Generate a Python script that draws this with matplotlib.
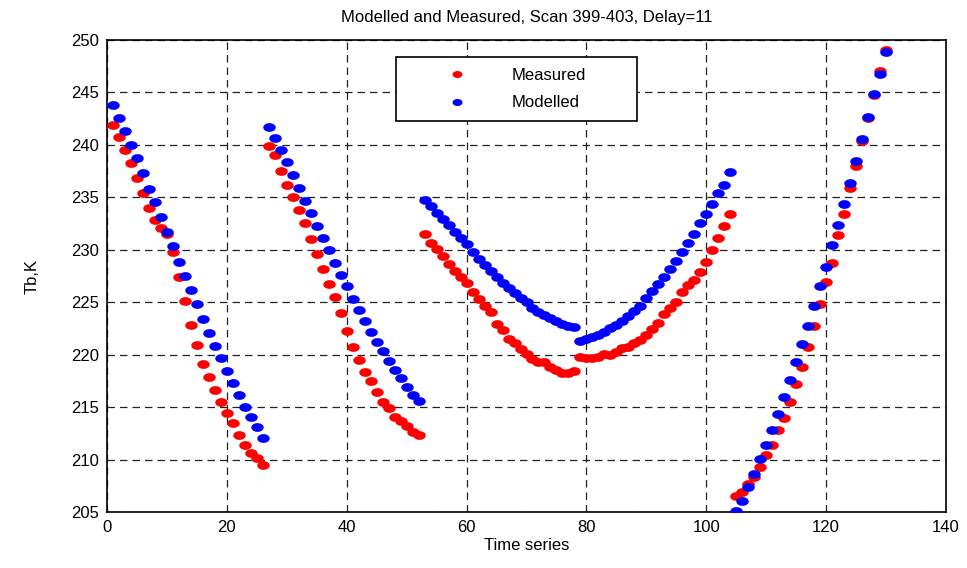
import numpy as np
import matplotlib
matplotlib.use("Agg")
import matplotlib.pyplot as plt
from matplotlib.path import Path

# ---- data -------------------------------------------------------------
seg_x = [list(range(1, 27)), list(range(27, 53)), list(range(53, 79)),
         list(range(79, 105)), list(range(105, 131))]

measured_1 = [241.86, 240.75, 239.48, 238.24, 236.87, 235.38, 233.98, 232.87, 232.05, 231.51,
              229.83, 227.38, 225.16, 222.81, 220.90, 219.10, 217.86, 216.59, 215.44, 214.43,
              213.48, 212.37, 211.38, 210.65, 210.11, 209.44]
modelled_1 = [243.76, 242.56, 241.29, 240.02, 238.78, 237.35, 235.83, 234.56, 233.16, 231.73,
              230.33, 228.81, 227.54, 226.14, 224.87, 223.44, 222.05, 220.78, 219.67, 218.40,
              217.29, 216.11, 215.03, 214.05, 213.06, 212.05]
measured_2 = [239.94, 238.99, 237.53, 236.17, 235.03, 233.80, 232.53, 230.98, 229.56, 228.20,
              226.77, 225.51, 223.99, 222.28, 220.76, 219.49, 218.35, 217.53, 216.46, 215.44,
              214.87, 214.05, 213.64, 213.16, 212.63, 212.37]
modelled_2 = [241.74, 240.63, 239.49, 238.39, 237.09, 235.89, 234.62, 233.48, 232.22, 231.11,
              229.94, 228.73, 227.63, 226.52, 225.35, 224.24, 223.20, 222.15, 221.17, 220.35,
              219.37, 218.51, 217.82, 216.96, 216.20, 215.57]
measured_3 = [231.50, 230.67, 230.03, 229.39, 228.69, 227.96, 227.42, 226.85, 226.02, 225.29,
              224.68, 224.04, 222.96, 222.39, 221.50, 221.15, 220.54, 220.10, 219.55, 219.33,
              219.30, 218.82, 218.50, 218.25, 218.25, 218.41]
modelled_3 = [234.78, 234.17, 233.50, 232.90, 232.32, 231.66, 231.08, 230.51, 229.75, 229.11,
              228.57, 227.96, 227.42, 226.88, 226.40, 225.86, 225.45, 225.03, 224.49, 224.11,
              223.76, 223.50, 223.18, 222.96, 222.77, 222.61]
measured_4 = [219.81, 219.71, 219.65, 219.74, 220.06, 219.94, 220.26, 220.64, 220.77, 221.09,
              221.44, 221.86, 222.40, 223.04, 223.85, 224.49, 225.00, 225.99, 226.60, 227.15,
              227.85, 228.88, 229.94, 231.12, 232.28, 233.40]
modelled_4 = [221.35, 221.47, 221.67, 221.92, 222.15, 222.50, 222.82, 223.24, 223.69, 224.17,
              224.68, 225.45, 226.09, 226.73, 227.44, 228.17, 228.97, 229.78, 230.67, 231.54,
              232.56, 233.40, 234.36, 235.38, 236.22, 237.37]
measured_5 = [206.52, 206.91, 207.67, 208.31, 209.33, 210.41, 211.43, 212.83, 213.94, 215.53,
              217.19, 218.87, 220.72, 222.69, 224.79, 226.93, 228.77, 231.41, 233.39, 235.93,
              238.03, 240.39, 242.52, 244.75, 247.04, 249.05]
modelled_5 = [205.06, 206.08, 207.35, 208.62, 210.03, 211.43, 212.83, 214.35, 216.01, 217.63,
              219.32, 221.01, 222.69, 224.67, 226.51, 228.33, 230.43, 232.40, 234.37, 236.35,
              238.48, 240.55, 242.65, 244.81, 246.79, 248.89]

x_ticks = [0, 20, 40, 60, 80, 100, 120, 140]
y_ticks = [205, 210, 215, 220, 225, 230, 235, 240, 245, 250]

time_x = sum(seg_x, [])
measured = measured_1 + measured_2 + measured_3 + measured_4 + measured_5
modelled = modelled_1 + modelled_2 + modelled_3 + modelled_4 + modelled_5

# ---- ellipse marker -----------------------------------------------------
t = np.linspace(0, 2 * np.pi, 40)
ell = Path(np.column_stack([np.cos(t), 0.7 * np.sin(t)]), closed=True)

plt.rcParams['font.family'] = ['Liberation Sans', 'DejaVu Sans']

fig = plt.figure(figsize=(9.67, 5.68), dpi=100)
ax_l, ax_r, ax_t, ax_b = 107, 946, 40, 512
ax = fig.add_axes([ax_l / 967, 1 - ax_b / 568, (ax_r - ax_l) / 967, (ax_b - ax_t) / 568])

ax.plot(time_x, measured, linestyle='none', marker=ell, markersize=9,
        color='#ff0000', markeredgewidth=0, label='Measured', zorder=3)
ax.plot(time_x, modelled, linestyle='none', marker=ell, markersize=9,
        color='#0000ff', markeredgewidth=0, label='Modelled', zorder=3)

ax.set_xlim(0, 140)
ax.set_ylim(205, 250)
ax.set_xticks(x_ticks)
ax.set_yticks(y_ticks)
ax.tick_params(direction='in', length=0, labelsize=12, pad=6)
ax.grid(True, color='#222222', linestyle=(0, (6, 4)), linewidth=0.9)
for s in ax.spines.values():
    s.set_linewidth(1.2)
    s.set_color('black')

ax.set_title('Modelled and Measured, Scan 399-403, Delay=11', fontsize=12, pad=13)
ax.set_xlabel('Time series', fontsize=12, labelpad=2)
ax.set_ylabel('Tb,K', fontsize=12, labelpad=22)

W = ax_r - ax_l
H = ax_b - ax_t
bh = 0.01
leg = ax.legend(loc='upper left',
                bbox_to_anchor=((396 - ax_l) / W, 1 - (57 - ax_t) / H - bh, (637 - 396) / W, bh),
                mode='expand',
                fontsize=12, frameon=True, fancybox=False, edgecolor='black',
                framealpha=1, handletextpad=0.3, borderpad=0.65, handlelength=6.0,
                labelspacing=0.75, borderaxespad=0, markerscale=0.8)
leg.get_frame().set_linewidth(1.2)

fig.savefig('out.png', dpi=100)
